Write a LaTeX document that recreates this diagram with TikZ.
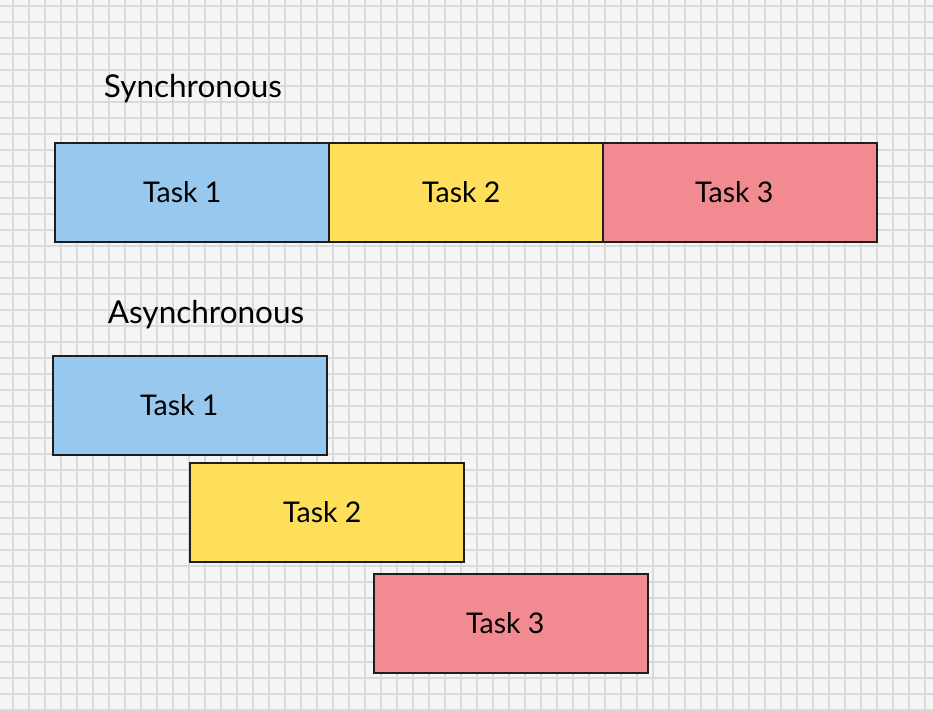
\documentclass[tikz,border=0pt]{standalone}
\usepackage{fontspec}
\setmainfont{Lato}
\definecolor{bgc}{HTML}{F5F5F5}
\definecolor{gridc}{HTML}{DADADA}
\definecolor{blueC}{HTML}{99C8EE}
\definecolor{yellowC}{HTML}{FDDF5C}
\definecolor{pinkC}{HTML}{F28A91}
\definecolor{edgeC}{HTML}{1E1E1E}
\begin{document}
\begin{tikzpicture}[x=1pt,y=-1pt,
  taskbox/.style={draw=edgeC,line width=2.4pt,minimum width=274pt,minimum height=99pt,inner sep=0pt,anchor=north west},
  tasklabel/.style={font=\fontsize{28.5}{34}\selectfont,text=black},
  title/.style={font=\fontsize{31.5}{38}\selectfont,text=black}]
\fill[bgc] (0,0) rectangle (933,711);
\useasboundingbox (0,0) rectangle (933,711);
\foreach \i in {0,...,57} { \draw[gridc,line width=2pt] (13+16*\i,0) -- (13+16*\i,711); }
\foreach \j in {0,...,44} { \draw[gridc,line width=2pt] (0,6+16*\j) -- (933,6+16*\j); }
% Synchronous
\node[title] (tsync) at (193,89) {Synchronous};
\node[taskbox,fill=blueC] (s1) at (54,142) {};
\node[taskbox,fill=yellowC] (s2) at (328,142) {};
\node[taskbox,fill=pinkC] (s3) at (602,142) {};
\node[tasklabel] (ls1) at ([xshift=-10pt,yshift=1pt]s1.center) {Task 1};
\node[tasklabel] (ls2) at ([xshift=-5pt,yshift=1pt]s2.center) {Task 2};
\node[tasklabel] (ls3) at ([xshift=-6pt,yshift=1pt]s3.center) {Task 3};
% Asynchronous
\node[title] (tasync) at (206,315) {Asynchronous};
\node[taskbox,fill=blueC] (a1) at (52,355) {};
\node[taskbox,fill=yellowC] (a2) at (189,462) {};
\node[taskbox,fill=pinkC] (a3) at (373,573) {};
\node[tasklabel] (la1) at ([xshift=-11pt,yshift=1pt]a1.center) {Task 1};
\node[tasklabel] (la2) at ([xshift=-5pt,yshift=1pt]a2.center) {Task 2};
\node[tasklabel] (la3) at ([xshift=-6pt,yshift=1pt]a3.center) {Task 3};
\end{tikzpicture}
\end{document}
